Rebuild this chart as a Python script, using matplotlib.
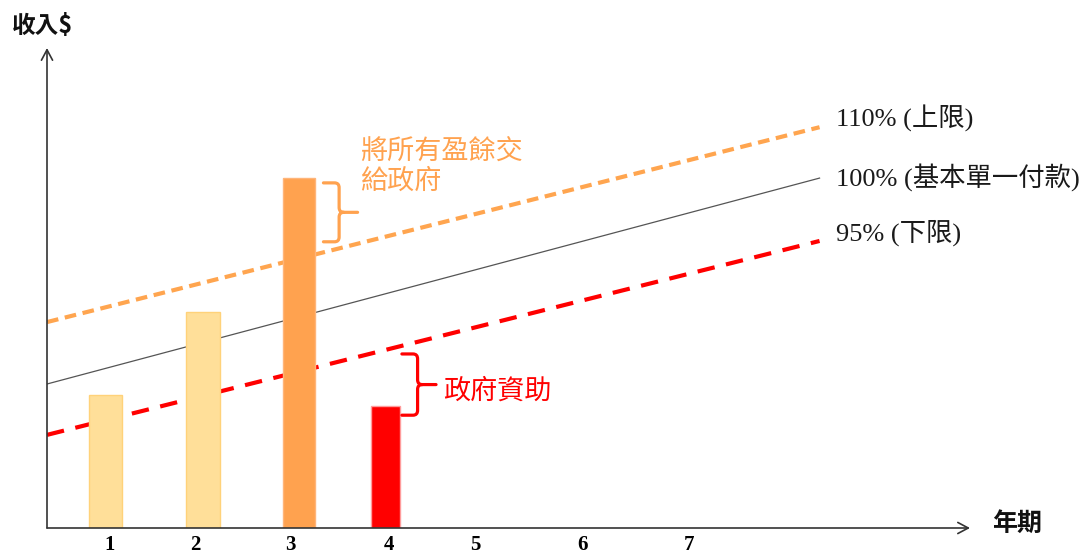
import matplotlib.pyplot as plt
from matplotlib.path import Path
from matplotlib.patches import PathPatch

# period tick labels and where they sit along the time axis
periods = ['1', '2', '3', '4', '5', '6', '7']
period_pos = [0.68, 1.61, 2.64, 3.71, 4.64, 5.80, 6.96]

# actual revenue per period (only first four years shown)
bar_pos = [0.63, 1.69, 2.73, 3.67]
revenue = [27.7, 45.0, 72.9, 25.4]

# threshold lines (start / end of the period range)
line_x = [0.0, 8.37]
upper_110 = [42.9, 83.5]
base_100 = [30.0, 72.9]
lower_95 = [19.4, 59.8]

line_labels = ['110% (上限)', '100% (基本單一付款)', '95% (下限)']
label_y = [85.4, 73.1, 61.5]

W, H = 1092, 554
LIGHT = '#FFDF99'
ORANGE = '#FFA24F'
RED = '#FF0000'
SERIF_CJK = ['Liberation Serif', 'Noto Sans CJK TC']
CJK = ['Noto Sans CJK TC', 'DejaVu Sans']


def line_at(xs, ys, x):
    return ys[0] + (ys[1] - ys[0]) * (x - xs[0]) / (xs[1] - xs[0])


def brace(ax, x0, top, bottom, color):
    # right-pointing curly brace, sizes in data units
    xm = x0 + 0.17
    xt = x0 + 0.37
    rx, ry = 0.05, 1.0
    ym = (top + bottom) / 2
    verts = [(x0, top), (xm - rx, top), (xm, top), (xm, top - ry),
             (xm, ym + ry), (xm, ym), (xm + rx, ym), (xt, ym),
             (xm + rx, ym), (xm, ym), (xm, ym - ry),
             (xm, bottom + ry), (xm, bottom), (xm - rx, bottom), (x0, bottom)]
    codes = [Path.MOVETO, Path.LINETO, Path.CURVE3, Path.CURVE3,
             Path.LINETO, Path.CURVE3, Path.CURVE3, Path.LINETO,
             Path.MOVETO, Path.CURVE3, Path.CURVE3,
             Path.LINETO, Path.CURVE3, Path.CURVE3, Path.LINETO]
    ax.add_patch(PathPatch(Path(verts, codes), fill=False, ec=color, lw=2.3,
                           capstyle='round', joinstyle='round', zorder=4))


fig = plt.figure(figsize=(W / 100, H / 100), dpi=100)
ax = fig.add_axes([47 / W, (H - 528) / H, 923 / W, 480 / H])
ax.set_xlim(0, 10)
ax.set_ylim(0, 100)
for s in ax.spines.values():
    s.set_visible(False)

# threshold lines
ax.plot(line_x, upper_110, color='#FFA54F', lw=3, dashes=(2.8, 1.6), zorder=2)
ax.plot(line_x, base_100, color='#555555', lw=0.9, zorder=2)
ax.plot(line_x, lower_95, color=RED, lw=3, dashes=(4.2, 2.8), zorder=2)

for txt, y in zip(line_labels, label_y):
    ax.text(8.55, y, txt, family=SERIF_CJK, fontsize=19, color='#1a1a1a',
            va='center', ha='left')

# bars
colors = [LIGHT, LIGHT, ORANGE, RED]
edges = ['#FFD27A', '#FFD27A', '#FFB57A', '#FF9C9C']
widths = [0.36, 0.36, 0.35, 0.31]
ax.bar(bar_pos, revenue, width=widths, color=colors, edgecolor=edges,
       lw=1, zorder=3)

# surplus brace on year 3
x3 = bar_pos[2] + widths[2] / 2 + 0.09
brace(ax, x3, revenue[2] - 1.0, line_at(line_x, upper_110, x3) + 2.2, ORANGE)
ax.text(3.39, 75.2, '將所有盈餘交\n給政府', family=CJK, fontsize=19.5,
        color=ORANGE, va='center', ha='left', linespacing=1.1)

# subsidy brace on year 4
x4 = bar_pos[3] + widths[3] / 2 + 0.02
brace(ax, x4, line_at(line_x, lower_95, x4) - 1.7, revenue[3] - 1.9, RED)
ax.text(4.29, 28.5, '政府資助', family=CJK, fontsize=19.5, color=RED,
        va='center', ha='left')

# axes with open arrowheads
arrow = dict(arrowstyle='->,head_length=0.75,head_width=0.4',
             color='#333333', lw=1.2, shrinkA=0, shrinkB=0)
ax.annotate('', xy=(0, 1), xytext=(0, 0), xycoords='axes fraction',
            arrowprops=arrow, annotation_clip=False)
ax.annotate('', xy=(1, 0), xytext=(0, 0), xycoords='axes fraction',
            arrowprops=arrow, annotation_clip=False)

ax.set_xticks(period_pos, periods, family='Liberation Serif',
              fontweight='bold', fontsize=15)
ax.set_yticks([])
ax.tick_params(axis='x', length=0, pad=5)

fig.text(12 / W, 1 - 26 / H, '收入$', family=CJK, fontsize=17,
         va='center', ha='left', color='#111111', fontweight='bold')
fig.text(992 / W, 1 - 524 / H, '年期', family=CJK, fontsize=18,
         va='center', ha='left', color='#111111', fontweight='bold')

fig.savefig('out.png', dpi=100)
